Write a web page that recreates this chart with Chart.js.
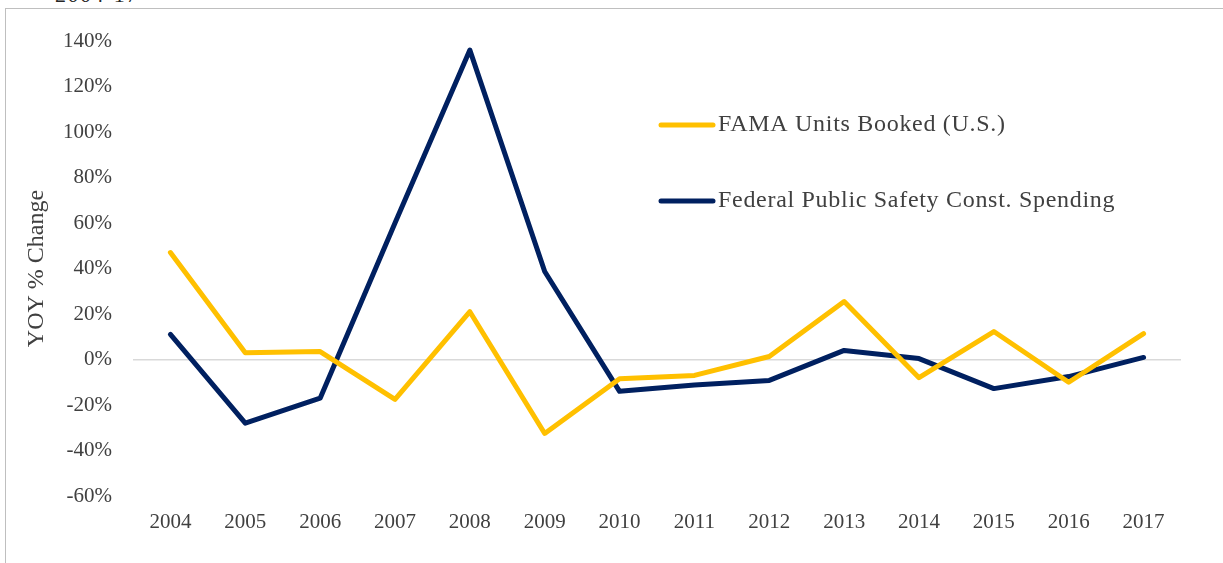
<!DOCTYPE html>
<html>
<head>
<meta charset="utf-8">
<script src="https://cdn.jsdelivr.net/npm/chart.js@4.4.1/dist/chart.umd.min.js"></script>
<style>
  html, body { margin: 0; padding: 0; background: #fff; }
  body { width: 1223px; height: 563px; position: relative; overflow: hidden; }
  .frame {
    position: absolute; left: 5px; top: 8px; right: -2px; bottom: -2px;
    border-top: 1px solid #bfbfbf; border-left: 1px solid #bfbfbf;
  }
  .caption {
    position: absolute; left: 55px; top: -18px; letter-spacing: 1.5px;
    font-family: "Liberation Serif", "DejaVu Serif", serif; font-size: 22px; color: #262626;
  }
  #wrap { position: absolute; left: 0; top: 0; width: 1223px; height: 563px; }
</style>
</head>
<body>
<div class="caption">2004-17</div>
<div class="frame"></div>
<div id="wrap"><canvas id="yoyChart"></canvas></div>
<script>
const years = ['2004', '2005', '2006', '2007', '2008', '2009', '2010', '2011', '2012', '2013', '2014', '2015', '2016', '2017'];
const famaUnitsBooked = [47, 3, 3.5, -17.5, 21, -32.5, -8.5, -7, 1.3, 25.5, -8, 12.3, -10, 11.4];
const publicSafetySpending = [11, -28, -17, 60, 136, 38.7, -14, -11.2, -9.2, 4, 0.4, -12.8, -7.5, 0.9];
const yTicks = [-60, -40, -20, 0, 20, 40, 60, 80, 100, 120, 140];

const serif = '"Liberation Serif", "DejaVu Serif", serif';
const textColor = '#404040';

// legend drawn at a fixed spot inside the plot, like the original workbook
const legendPlugin = {
  id: 'sideLegend',
  afterDraw(chart) {
    const ctx = chart.ctx;
    const rows = [125, 201];
    ctx.save();
    chart.data.datasets.forEach((ds, i) => {
      const y = rows[i];
      ctx.strokeStyle = ds.borderColor;
      ctx.lineWidth = 5;
      ctx.lineCap = 'round';
      ctx.beginPath();
      ctx.moveTo(661, y);
      ctx.lineTo(713, y);
      ctx.stroke();
      ctx.fillStyle = textColor;
      ctx.font = '24px ' + serif;
      ctx.letterSpacing = '0.7px';
      ctx.textBaseline = 'middle';
      ctx.textAlign = 'left';
      ctx.fillText(ds.label, 718, y);
    });
    ctx.restore();
  }
};

new Chart(document.getElementById('yoyChart'), {
  type: 'line',
  data: {
    labels: years,
    datasets: [
      {
        label: 'FAMA Units Booked (U.S.)',
        data: famaUnitsBooked,
        borderColor: '#FFC000',
        backgroundColor: '#FFC000',
        borderWidth: 5,
        pointRadius: 0,
        tension: 0,
        borderCapStyle: 'round',
        borderJoinStyle: 'round'
      },
      {
        label: 'Federal Public Safety Const. Spending',
        data: publicSafetySpending,
        borderColor: '#002060',
        backgroundColor: '#002060',
        borderWidth: 5,
        pointRadius: 0,
        tension: 0,
        borderCapStyle: 'round',
        borderJoinStyle: 'round'
      }
    ]
  },
  options: {
    responsive: true,
    maintainAspectRatio: false,
    animation: false,
    layout: { padding: { left: 0, top: 41, right: 42, bottom: 0 } },
    plugins: {
      legend: { display: false },
      tooltip: { enabled: false }
    },
    scales: {
      x: {
        offset: true,
        grid: { display: false, drawTicks: false },
        border: { display: false },
        ticks: {
          color: textColor,
          font: { family: serif, size: 21 },
          padding: 14,
          maxRotation: 0
        },
        afterFit: (scale) => { scale.height = 67; }
      },
      y: {
        min: -60,
        max: 140,
        afterBuildTicks: (scale) => { scale.ticks = yTicks.map(v => ({ value: v })); },
        grid: {
          drawTicks: false,
          color: (c) => c.tick && c.tick.value === 0 ? '#d9d9d9' : 'rgba(0,0,0,0)',
          lineWidth: 1.5
        },
        border: { display: false },
        ticks: {
          color: textColor,
          font: { family: serif, size: 21 },
          padding: 21,
          callback: (v) => v + '%'
        },
        title: {
          display: true,
          text: 'YOY % Change',
          color: textColor,
          font: { family: serif, size: 24 },
          padding: { top: 22, bottom: 0 }
        },
        afterFit: (scale) => { scale.width = 133; }
      }
    }
  },
  plugins: [legendPlugin]
});
</script>
</body>
</html>
